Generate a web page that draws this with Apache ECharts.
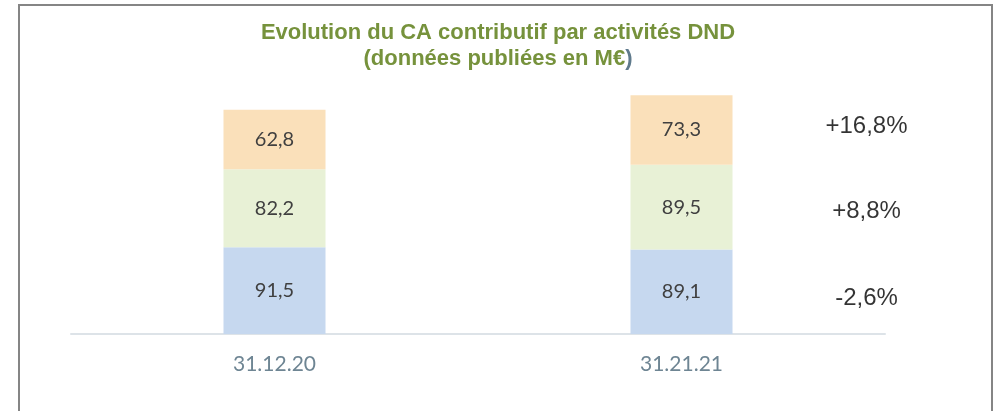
<!DOCTYPE html>
<html>
<head>
<meta charset="utf-8">
<script src="https://cdn.jsdelivr.net/npm/echarts@6/dist/echarts.min.js"></script>
<style>
  html, body { margin: 0; padding: 0; background: #fff; }
  #chart { width: 996px; height: 411px; }
</style>
</head>
<body>
<div id="chart"></div>
<script>
// Contributed revenue per DND activity (published figures, M€)
const categories = ['31.12.20', '31.21.21'];
const seriesNames = ['Activité 1', 'Activité 2', 'Activité 3'];
const bottomValues = [91.5, 89.1];
const middleValues = [82.2, 89.5];
const topValues = [62.8, 73.3];
// Year-over-year change per segment (bottom, middle, top)
const changeLabels = ['-2,6%', '+8,8%', '+16,8%'];

const colors = ['#c6d8ef', '#e8f1d6', '#fae0ba'];
const stacks = [bottomValues, middleValues, topValues];

const chart = echarts.init(document.getElementById('chart'), null, { renderer: 'canvas' });

const barSeries = stacks.map((vals, i) => ({
  name: seriesNames[i],
  type: 'bar',
  stack: 'ca',
  barWidth: 102,
  data: vals,
  itemStyle: { color: colors[i] },
  label: {
    show: true,
    position: 'inside',
    color: '#404040',
    fontFamily: 'Lato, "Open Sans", sans-serif',
    fontSize: 20,
    formatter: p => String(p.value).replace('.', ',')
  },
  emphasis: { disabled: true }
}));

// Change labels sit beside the last bar, at the middle of each segment
const last = categories.length - 1;
let base = 0;
const changePoints = stacks.map((vals, i) => {
  const mid = base + vals[last] / 2;
  base += vals[last];
  return { value: [last, mid], label: { formatter: changeLabels[i] } };
});
const yNudge = [7, 4, -4];
changePoints.forEach((p, i) => { p.label.offset = [185, yNudge[i]]; });

const option = {
  animation: false,
  backgroundColor: '#ffffff',
  title: {
    left: 'center',
    top: 15,
    text: '{t|Evolution du CA contributif par activités DND}\n{t|(données publiées en M€}{p|)}',
    textStyle: {
      rich: {
        t: { fontFamily: '"Liberation Sans", Arial, sans-serif', fontWeight: 'bold', fontSize: 22, color: '#76923c', lineHeight: 26 },
        p: { fontFamily: '"Liberation Sans", Arial, sans-serif', fontSize: 22, color: '#5f7a8c', lineHeight: 26 }
      }
    }
  },
  grid: { left: 71, right: 111, top: 87.5, bottom: 77 },
  xAxis: {
    type: 'category',
    data: categories,
    axisLine: { lineStyle: { color: '#dde3e8', width: 2 } },
    axisTick: { show: false },
    axisLabel: {
      color: '#6e8593',
      fontFamily: 'Lato, "Open Sans", sans-serif',
      fontSize: 21,
      margin: 20
    }
  },
  yAxis: {
    type: 'value',
    min: 0,
    max: 260,
    show: false
  },
  series: barSeries.concat([{
    type: 'scatter',
    symbolSize: 0,
    data: changePoints,
    label: {
      show: true,
      position: 'inside',
      color: '#000000',
      fontFamily: '"Liberation Sans", Arial, sans-serif',
      fontSize: 24
    },
    emphasis: { disabled: true },
    silent: true,
    z: 5
  }]),
  graphic: [{
    type: 'rect',
    shape: { x: 19, y: 5, width: 973, height: 420 },
    style: { fill: 'none', stroke: '#858585', lineWidth: 2 },
    silent: true
  }]
};

chart.setOption(option);
</script>
</body>
</html>
